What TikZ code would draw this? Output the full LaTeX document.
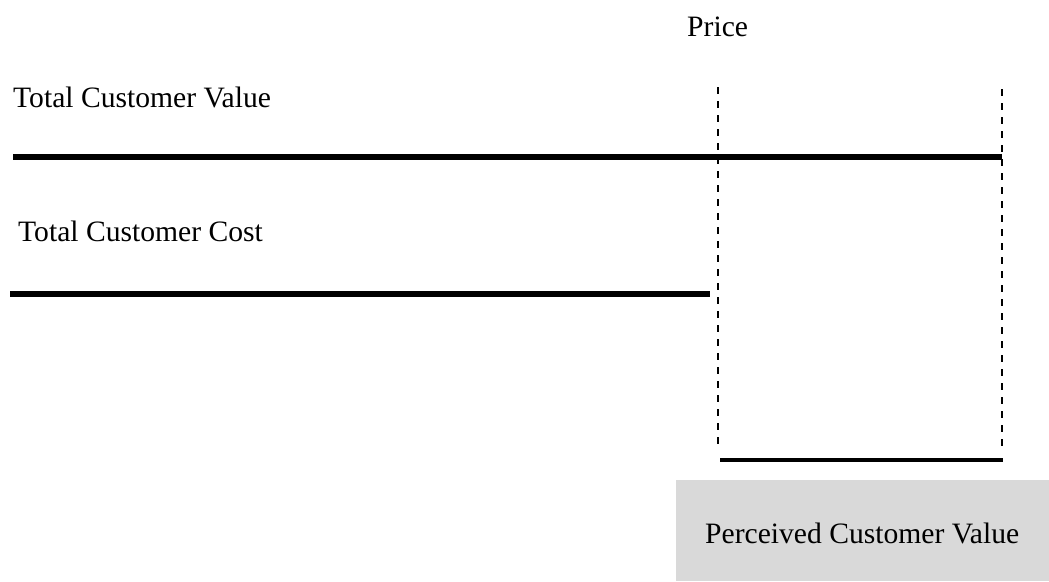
\documentclass[tikz,border=0pt]{standalone}
\usepackage{fontspec}
\setmainfont{Liberation Serif}
\begin{document}
\begin{tikzpicture}[x=1pt,y=-1pt,
  lbl/.style={anchor=base west,inner sep=0pt,font=\fontsize{29.6}{34}\selectfont},
  thickline/.style={line width=5.5pt},
  midline/.style={line width=4pt},
  dashline/.style={line width=2pt,dash pattern=on 7pt off 7pt},
  greybox/.style={fill=boxgrey,draw=none}]
\definecolor{boxgrey}{HTML}{D9D9D9}
\useasboundingbox (0,0) rectangle (1049,581);
% grey box
\fill[boxgrey] (676,480) rectangle (1049,581);
% labels
\node[lbl] (price) at (687,36) {Price};
\node[lbl] (tcv) at (13,107) {Total Customer Value};
\node[lbl] (tcc) at (18,241) {Total Customer Cost};
\node[lbl] (pcv) at (705,543) {Perceived Customer Value};
% coordinates
\coordinate (v1) at (13,157);
\coordinate (v2) at (1002,157);
\coordinate (c1) at (10,294);
\coordinate (c2) at (710,294);
\coordinate (d1t) at (717.5,87);
\coordinate (d1b) at (717.5,451);
\coordinate (d2t) at (1002,89);
\coordinate (d2b) at (1002,451);
\coordinate (p1) at (720,459.5);
\coordinate (p2) at (1002.5,459.5);
% lines
\draw[thickline] (v1) -- (v2);
\draw[thickline] (c1) -- (c2);
\draw[dashline] (d1t) -- (d1b);
\draw[dashline] (d2t) -- (d2b);
\draw[midline] (p1) -- (p2);
\end{tikzpicture}
\end{document}
